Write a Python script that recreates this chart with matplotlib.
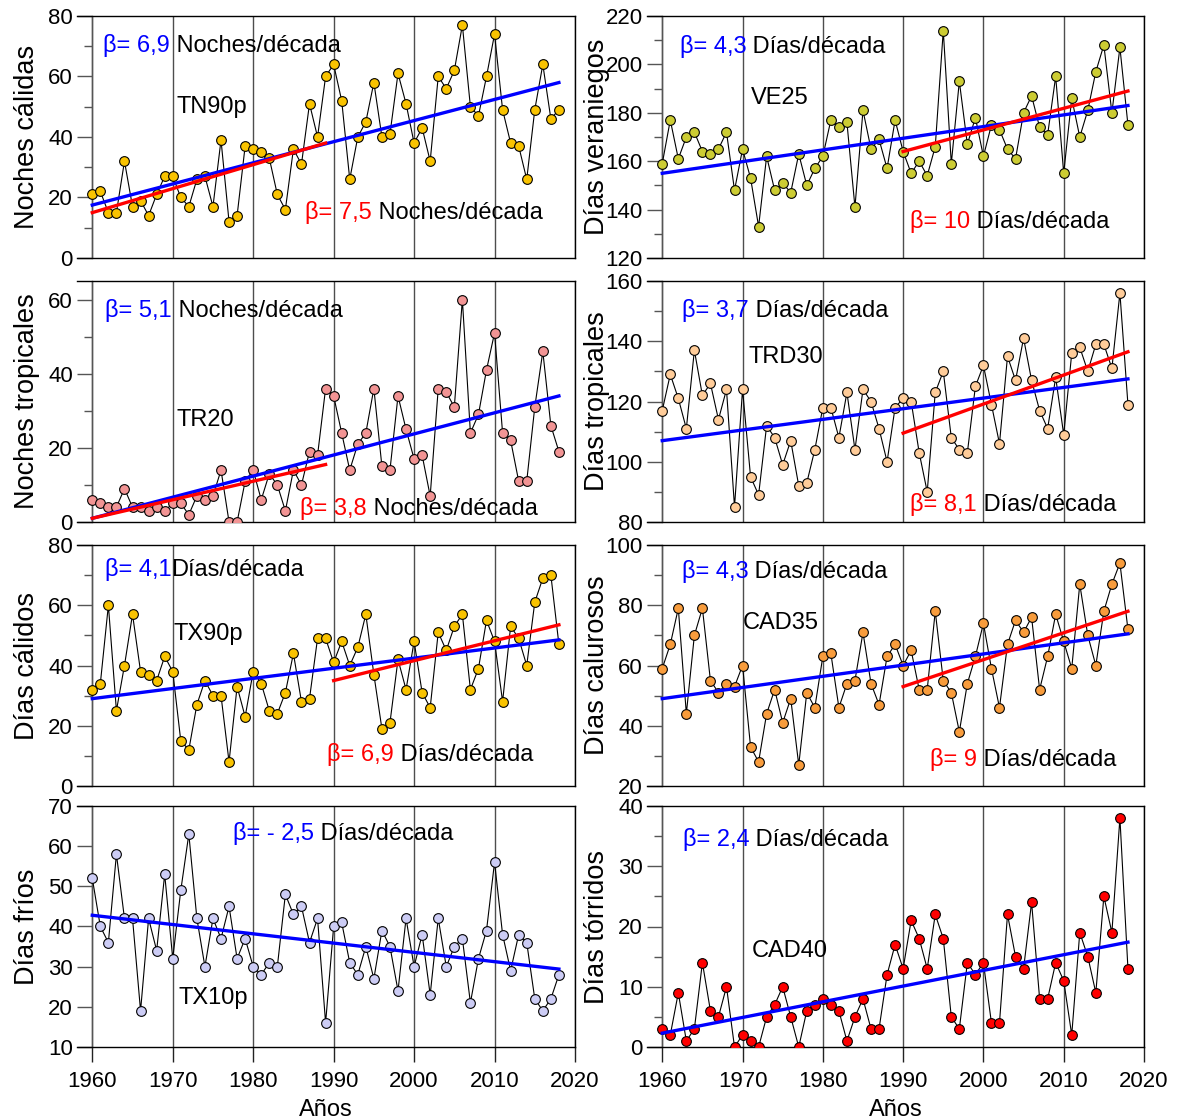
import numpy as np
import matplotlib
matplotlib.use("Agg")
import matplotlib.pyplot as plt
from matplotlib.ticker import MultipleLocator

plt.rcParams['font.family'] = ['Liberation Sans', 'DejaVu Sans']

# ---------------------------------------------------------------------------
# data, years 1960-2018
# ---------------------------------------------------------------------------
years = np.arange(1960, 2019)

tn90p = [21, 22, 15, 15, 32, 17, 19, 14, 21, 27, 27, 20, 17, 26, 27, 17, 39, 12, 14, 37,
         36, 35, 33, 21, 16, 36, 31, 51, 40, 60, 64, 52, 26, 40, 45, 58, 40, 41, 61, 51,
         38, 43, 32, 60, 56, 62, 77, 50, 47, 60, 74, 49, 38, 37, 26, 49, 64, 46, 49]
ve25 = [159, 177, 161, 170, 172, 164, 163, 165, 172, 148, 165, 153, 133, 162, 148, 151, 147, 163, 150, 157,
        162, 177, 174, 176, 141, 181, 165, 169, 157, 177, 164, 155, 160, 154, 166, 214, 159, 193, 167, 178,
        162, 175, 173, 165, 161, 180, 187, 174, 171, 195, 155, 186, 170, 181, 197, 208, 180, 207, 175]
tr20 = [6, 5, 4, 4, 9, 4, 4, 3, 4, 3, 5, 5, 2, 7, 6, 7, 14, 0, 0, 11,
        14, 6, 13, 10, 3, 14, 10, 19, 18, 36, 34, 24, 14, 21, 24, 36, 15, 14, 34, 25,
        17, 18, 7, 36, 35, 31, 60, 24, 29, 41, 51, 24, 22, 11, 11, 31, 46, 26, 19]
trd30 = [117, 129, 121, 111, 137, 122, 126, 114, 124, 85, 124, 95, 89, 112, 108, 99, 107, 92, 93, 104,
         118, 118, 108, 123, 104, 124, 120, 111, 100, 118, 121, 120, 103, 90, 123, 130, 108, 104, 103, 125,
         132, 119, 106, 135, 127, 141, 127, 117, 111, 128, 109, 136, 138, 130, 139, 139, 131, 156, 119]
tx90p = [32, 34, 60, 25, 40, 57, 38, 37, 35, 43, 38, 15, 12, 27, 35, 30, 30, 8, 33, 23,
         38, 34, 25, 24, 31, 44, 28, 29, 49, 49, 41, 48, 40, 46, 57, 37, 19, 21, 42, 32,
         48, 31, 26, 51, 45, 53, 57, 32, 39, 55, 48, 28, 53, 49, 40, 61, 69, 70, 47]
cad35 = [59, 67, 79, 44, 70, 79, 55, 51, 54, 53, 60, 33, 28, 44, 52, 41, 49, 27, 51, 46,
         63, 64, 46, 54, 55, 71, 54, 47, 63, 67, 60, 65, 52, 52, 78, 55, 51, 38, 54, 63,
         74, 59, 46, 67, 75, 71, 76, 52, 63, 77, 68, 59, 87, 70, 60, 78, 87, 94, 72]
tx10p = [52, 40, 36, 58, 42, 42, 19, 42, 34, 53, 32, 49, 63, 42, 30, 42, 37, 45, 32, 37,
         30, 28, 31, 30, 48, 43, 45, 36, 42, 16, 40, 41, 31, 28, 35, 27, 39, 35, 24, 42,
         30, 38, 23, 42, 30, 35, 37, 21, 32, 39, 56, 38, 29, 38, 36, 22, 19, 22, 28]
cad40 = [3, 2, 9, 1, 3, 14, 6, 5, 10, 0, 2, 1, 0, 5, 7, 10, 5, 0, 6, 7,
         8, 7, 6, 1, 5, 8, 3, 3, 12, 17, 13, 21, 18, 13, 22, 18, 5, 3, 14, 12,
         14, 4, 4, 22, 15, 13, 24, 8, 8, 14, 11, 2, 19, 15, 9, 25, 19, 38, 13]

# trend lines: values at start / end year of each fit
full_period = [1960, 2018]
early_period = [1960, 1989]
late_period = [1990, 2018]
tn90p_blue, tn90p_red = [17.5, 58.0], [15.0, 38.0]
ve25_blue, ve25_red = [155.0, 183.0], [164.0, 189.0]
tr20_blue, tr20_red = [1.0, 34.0], [1.0, 15.5]
trd30_blue, trd30_red = [107.0, 127.5], [109.5, 136.5]
tx90p_blue, tx90p_red = [29.0, 48.5], [35.0, 53.5]
cad35_blue, cad35_red = [49.0, 70.5], [53.0, 78.0]
tx10p_blue = [42.8, 29.4]
cad40_blue = [2.3, 17.4]

# ---------------------------------------------------------------------------
# panel layout (pixels in a 1184 x 1119 figure)
# ---------------------------------------------------------------------------
W, H = 1184, 1119
cols = [(77, 575), (647, 1144)]
rows = [(16, 258), (281, 522), (545, 786), (806, 1047)]

panels = [
    dict(v=tn90p, c='#F9C300', ylim=(0, 80), major=20, minor=10, ylab='Noches cálidas',
         name='TN90p', name_xy=(0.20, 0.624), blue='β= 6,9', blue_xy=(0.052, 0.88), unit=' Noches/década',
         red='β= 7,5', red_xy=(0.458, 0.19), tb=tn90p_blue, tr=tn90p_red, rp=early_period),
    dict(v=ve25, c='#CCCC33', ylim=(120, 220), major=20, minor=10, ylab='Días veraniegos',
         name='VE25', name_xy=(0.209, 0.661), blue='β= 4,3', blue_xy=(0.066, 0.876), unit=' Días/década',
         red='β= 10', red_xy=(0.529, 0.149), tb=ve25_blue, tr=ve25_red, rp=late_period),
    dict(v=tr20, c='#F29494', ylim=(0, 65), major=20, minor=10, ylab='Noches tropicales',
         name='TR20', name_xy=(0.199, 0.423), blue='β= 5,1', blue_xy=(0.056, 0.876), unit=' Noches/década',
         red='β= 3,8', red_xy=(0.448, 0.058), tb=tr20_blue, tr=tr20_red, rp=early_period),
    dict(v=trd30, c='#FFCC99', ylim=(80, 160), major=20, minor=10, ylab='Días tropicales',
         name='TRD30', name_xy=(0.205, 0.685), blue='β= 3,7', blue_xy=(0.070, 0.876), unit=' Días/década',
         red='β= 8,1', red_xy=(0.529, 0.071), tb=trd30_blue, tr=trd30_red, rp=late_period),
    dict(v=tx90p, c='#F9C300', ylim=(0, 80), major=20, minor=10, ylab='Días cálidos',
         name='TX90p', name_xy=(0.193, 0.631), blue='β= 4,1', blue_xy=(0.056, 0.90), unit='Días/década',
         red='β= 6,9', red_xy=(0.502, 0.129), tb=tx90p_blue, tr=tx90p_red, rp=late_period),
    dict(v=cad35, c='#F89C3C', ylim=(20, 100), major=20, minor=10, ylab='Días calurosos',
         name='CAD35', name_xy=(0.193, 0.676), blue='β= 4,3', blue_xy=(0.070, 0.892), unit=' Días/década',
         red='β= 9', red_xy=(0.569, 0.108), tb=cad35_blue, tr=cad35_red, rp=late_period),
    dict(v=tx10p, c='#CCCCF5', ylim=(10, 70), major=10, minor=None, ylab='Días fríos',
         name='TX10p', name_xy=(0.203, 0.203), blue='β= - 2,5', blue_xy=(0.313, 0.884), unit=' Días/década',
         red=None, red_xy=None, tb=tx10p_blue, tr=None, rp=None),
    dict(v=cad40, c='#FF0000', ylim=(0, 40), major=10, minor=5, ylab='Días tórridos',
         name='CAD40', name_xy=(0.211, 0.398), blue='β= 2,4', blue_xy=(0.072, 0.863), unit=' Días/década',
         red=None, red_xy=None, tb=cad40_blue, tr=None, rp=None),
]

fig = plt.figure(figsize=(W / 100, H / 100), dpi=100)
FS = 17


def two_colour(ax, xy, first, colour, second):
    t = ax.text(xy[0], xy[1], first, color=colour, fontsize=FS, transform=ax.transAxes,
                ha='left', va='center')
    ax.annotate(second, xy=(1, 0), xycoords=t, ha='left', va='bottom', fontsize=FS,
                color='black')


for i, p in enumerate(panels):
    r, c = divmod(i, 2)
    x0, x1 = cols[c]
    y0, y1 = rows[r]
    ax = fig.add_axes([x0 / W, 1 - y1 / H, (x1 - x0) / W, (y1 - y0) / H])

    ax.plot(years, p['v'], color='black', lw=0.8, zorder=3)
    ax.plot(years, p['v'], ls='none', marker='o', ms=7.0, mfc=p['c'], mec='black',
            mew=0.8, zorder=4)
    ax.plot(full_period, p['tb'], color='#0000FF', lw=2.4, zorder=5)
    if p['tr'] is not None:
        ax.plot(p['rp'], p['tr'], color='#FF0000', lw=2.4, zorder=5)

    ax.set_xlim(1958.1, 2020)
    ax.set_ylim(*p['ylim'])
    ax.set_xticks(range(1960, 2021, 10))
    ax.yaxis.set_major_locator(MultipleLocator(p['major']))
    if p['minor']:
        ax.yaxis.set_minor_locator(MultipleLocator(p['minor']))
    ax.grid(axis='x', color='#4d4d4d', lw=1.0, zorder=1)

    ax.spines['left'].set_position(('data', 1960))
    ax.spines['left'].set_color('#555555')
    for s in ('top', 'bottom', 'right', 'left'):
        ax.spines[s].set_linewidth(1.0)

    ax.tick_params(axis='y', which='major', direction='out', length=11, width=1.0,
                   color='#555555', labelsize=16, pad=3)
    ax.tick_params(axis='y', which='minor', direction='out', length=5.5, width=1.0,
                   color='#555555')
    if r == 3:
        ax.tick_params(axis='x', direction='out', length=11, width=1.0, color='#222222',
                       labelsize=16, pad=6)
        ax.set_xlabel('Años', fontsize=17, labelpad=5)
    else:
        ax.tick_params(axis='x', length=0, labelbottom=False)

    ax.set_ylabel(p['ylab'], fontsize=19.5)
    ax.yaxis.set_label_coords(-0.075, 0.5)

    ax.text(p['name_xy'][0], p['name_xy'][1], p['name'], fontsize=FS, transform=ax.transAxes,
            ha='left', va='center', zorder=6)
    two_colour(ax, p['blue_xy'], p['blue'], '#0000FF', p['unit'])
    if p['red'] is not None:
        two_colour(ax, p['red_xy'], p['red'], '#FF0000', ' ' + p['unit'].strip())

fig.savefig('out.png', dpi=100)
